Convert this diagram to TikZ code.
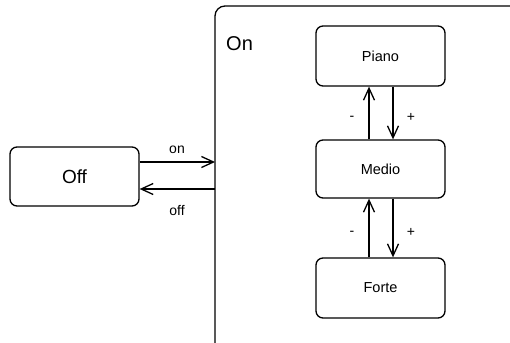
\documentclass[tikz,border=0pt]{standalone}
\usepackage{fontspec}
\setmainfont{Liberation Sans}
\usetikzlibrary{arrows.meta}
\begin{document}
\begin{tikzpicture}[x=1pt,y=-1pt,
  state/.style={draw,line width=1.3pt,rounded corners=7pt,minimum width=129pt,minimum height=59pt,inner sep=0pt},
  trans/.style={line width=1.3pt,-{Straight Barb[length=12pt,width=11pt,line width=1.3pt]}},
  inner/.style={font=\fontsize{14.5}{17}\selectfont},
  lbl/.style={font=\fontsize{14}{16}\selectfont,inner sep=0pt}]
\useasboundingbox (0,0) rectangle (510,342);
\begin{scope}
\clip (0,0) rectangle (510,342);
\draw[line width=1.3pt,rounded corners=10pt] (215,6) rectangle (530,360);
\end{scope}
\node[inner sep=0pt,anchor=west,font=\fontsize{20}{24}\selectfont] (onlabel) at (226,44) {On};
\node[state,font=\fontsize{19}{22}\selectfont] (off) at (74.5,176.5) {Off};
\node[state,inner,minimum height=60pt] (piano) at (380.5,56) {Piano};
\node[state,inner,minimum height=58pt] (medio) at (380.5,169) {Medio};
\node[state,inner,minimum height=60pt] (forte) at (380.5,288) {Forte};
\coordinate (onin) at (215,162);
\coordinate (onout) at (215,189);
\draw[trans] (off.east |- onin) -- (onin);
\draw[trans] (onout) -- (off.east |- onout);
\node[lbl] (lon) at (177,150) {on};
\node[lbl] (loff) at (177,211) {off};
\draw[trans] (medio.north -| 369,0) -- (piano.south -| 369,0);
\draw[trans] (piano.south -| 393,0) -- (medio.north -| 393,0);
\draw[trans] (forte.north -| 369,0) -- (medio.south -| 369,0);
\draw[trans] (medio.south -| 393,0) -- (forte.north -| 393,0);
\node[lbl] (m1) at (352,118) {-};
\node[lbl] (p1) at (411,117) {+};
\node[lbl] (m2) at (352,233) {-};
\node[lbl] (p2) at (411,232) {+};
\end{tikzpicture}
\end{document}
